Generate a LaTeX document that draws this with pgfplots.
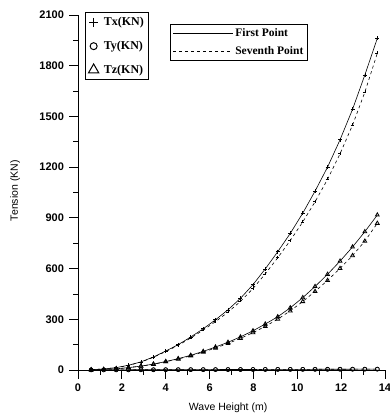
\documentclass[border=0pt]{standalone}
\usepackage{fontspec}
\setmainfont{Liberation Serif}
\setsansfont{Liberation Sans}
\usepackage{pgfplots}
\pgfplotsset{compat=1.18}
\usepackage{pgfplotstable}

\pgfplotstableread{
H     txa   txb   tya  tyb  tza  tzb
0.60  2     2     0.5  0.5  1    1
1.17  6     6     0.8  0.7  3    3
1.74  14    14    1.0  0.9  7    7
2.30  28    27    1.2  1.1  14   14
2.87  48    47    1.4  1.3  23   23
3.44  77    75    1.6  1.5  35   34
4.00  112   109   1.8  1.7  50   49
4.57  150   146   2.0  1.9  67   65
5.14  195   189   2.2  2.1  87   84
5.71  244   236   2.4  2.3  110  106
6.27  297   286   2.6  2.5  136  130
6.84  356   342   2.8  2.7  164  157
7.41  424   406   3.0  2.9  196  187
7.98  505   482   3.2  3.1  232  221
8.54  598   569   3.4  3.3  272  258
9.11  700   664   3.6  3.5  315  301
9.68  808   766   3.8  3.7  368  350
10.25 928   876   4.0  3.9  428  405
10.81 1058  995   4.2  4.1  494  465
11.38 1200  1128  4.4  4.3  566  530
11.95 1362  1279  4.6  4.5  644  601
12.52 1542  1449  4.8  4.7  728  677
13.08 1745  1643  5.0  4.9  818  762
13.65 1962  1874  5.2  5.1  917  868
}\data

\begin{document}
\begin{tikzpicture}
\path[use as bounding box] (-78pt,-48pt) rectangle (312pt,370pt);
\begin{axis}[
  at={(0pt,0pt)}, anchor=south west,
  scale only axis,
  width=307pt, height=355pt,
  xmin=0, xmax=14, ymin=0, ymax=2100,
  axis x line=bottom, axis y line=left,
  axis line style={-, line width=0.9pt},
  xtick={0,2,...,14}, ytick={0,300,...,2100},
  minor x tick num=1, minor y tick num=1,
  tick align=outside,
  major tick length=8.5pt, minor tick length=4.5pt,
  tick style={black, line width=0.8pt},
  /pgf/number format/assume math mode=true,
  /pgf/number format/1000 sep={},
  ticklabel style={font=\sffamily\bfseries\fontsize{11}{12}\selectfont},
  yticklabel style={xshift=-2pt},
  xticklabel style={yshift=-2pt},
  xlabel={Wave Height (m)},
  ylabel={Tension (KN)},
  label style={font=\sffamily\fontsize{10.5}{12}\selectfont},
  xlabel style={at={(axis description cs:0.489,-0.107)}, anchor=center},
  ylabel style={at={(axis description cs:-0.205,0.505)}, anchor=center},
  legend style={at={(rel axis cs:0.0228,1.0085)}, anchor=north west,
    draw=black, line width=0.9pt, font=\fontsize{12}{13}\selectfont\bfseries,
    row sep=10pt, inner sep=3pt},
  legend cell align=left,
]
\addplot[black, solid, line width=0.6pt, mark=+, mark size=2pt, forget plot] table[x=H, y=txa] {\data};
\addplot[black, dashed, line width=0.6pt, mark=+, mark size=2pt, forget plot] table[x=H, y=txb] {\data};
\addplot[black, solid, line width=0.6pt, mark=triangle, mark size=2.2pt, mark options={solid, line width=0.8pt}, forget plot] table[x=H, y=tza] {\data};
\addplot[black, dashed, line width=0.6pt, mark=triangle, mark size=2.2pt, mark options={solid, line width=0.8pt}, forget plot] table[x=H, y=tzb] {\data};
\addplot[black, solid, line width=0.6pt, mark=o, mark size=2pt, mark options={solid, fill=white}, forget plot] table[x=H, y=tya] {\data};
\addplot[black, dashed, line width=0.6pt, mark=o, mark size=2pt, mark options={solid, fill=white}, forget plot] table[x=H, y=tyb] {\data};
\addlegendimage{only marks, mark=+, mark size=4.5pt, line width=1pt}
\addlegendentry{\hspace{3pt}Tx(KN)}
\addlegendimage{only marks, mark=o, mark size=3.5pt, line width=1pt}
\addlegendentry{\hspace{3pt}Ty(KN)}
\addlegendimage{only marks, mark=triangle, mark size=6pt, line width=1pt}
\addlegendentry{\hspace{3pt}Tz(KN)}
\end{axis}
\begin{axis}[
  at={(0pt,0pt)}, anchor=south west,
  scale only axis,
  width=307pt, height=355pt,
  xmin=0, xmax=14, ymin=0, ymax=2100,
  hide axis,
  legend style={at={(rel axis cs:0.2997,0.9746)}, anchor=north west,
    draw=black, line width=0.9pt, font=\fontsize{11.5}{12}\selectfont\bfseries,
    row sep=4pt, inner sep=2.5pt},
  legend cell align=left,
  legend image code/.code={\draw[#1, line width=0.6pt] (0cm,0cm) -- (2.1cm,0cm);},
]
\addlegendimage{black, solid}
\addlegendentry{First Point}
\addlegendimage{black, dashed}
\addlegendentry{Seventh Point}
\end{axis}
\end{tikzpicture}
\end{document}
